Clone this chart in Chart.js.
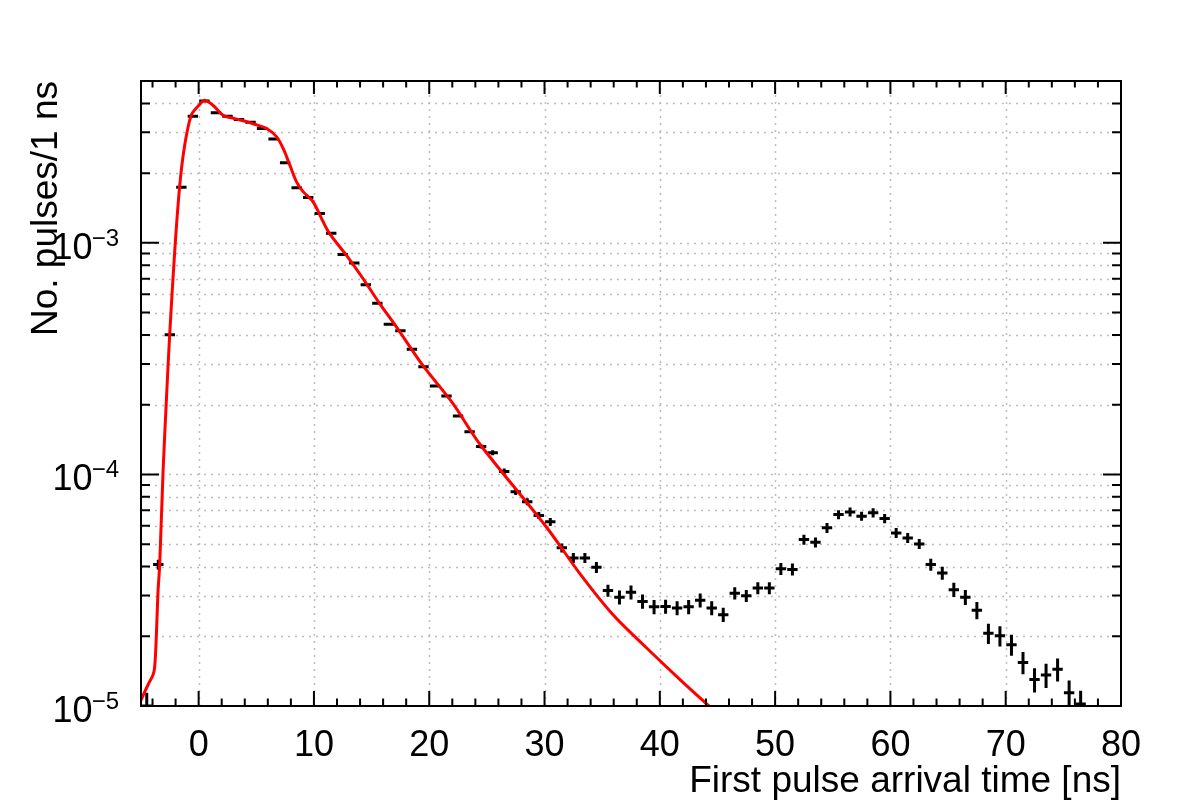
<!DOCTYPE html>
<html>
<head>
<meta charset="utf-8">
<script src="https://cdn.jsdelivr.net/npm/chart.js@4.4.1/dist/chart.umd.min.js"></script>
<style>
  html, body { margin: 0; padding: 0; background: #fff; }
  #wrap { width: 1182px; height: 805px; }
</style>
</head>
<body>
<div id="wrap"><canvas id="chart" width="1182" height="805"></canvas></div>
<script>
// Histogram: 1 ns bins, centres in ns
const binCenters = [
  -4.5, -3.5, -2.5, -1.5, -0.5, 0.5, 1.5, 2.5, 3.5, 4.5,
  5.5, 6.5, 7.5, 8.5, 9.5, 10.5, 11.5, 12.5, 13.5, 14.5,
  15.5, 16.5, 17.5, 18.5, 19.5, 20.5, 21.5, 22.5, 23.5, 24.5,
  25.5, 26.5, 27.5, 28.5, 29.5, 30.5, 31.5, 32.5, 33.5, 34.5,
  35.5, 36.5, 37.5, 38.5, 39.5, 40.5, 41.5, 42.5, 43.5, 44.5,
  45.5, 46.5, 47.5, 48.5, 49.5, 50.5, 51.5, 52.5, 53.5, 54.5,
  55.5, 56.5, 57.5, 58.5, 59.5, 60.5, 61.5, 62.5, 63.5, 64.5,
  65.5, 66.5, 67.5, 68.5, 69.5, 70.5, 71.5, 72.5, 73.5, 74.5,
  75.5, 76.5
];

// Pulses per 1 ns bin
const pulseRate = [
  1.0e-5, 4.08e-5, 4.01e-4, 1.74e-3, 3.52e-3, 4.10e-3, 3.65e-3, 3.52e-3, 3.41e-3, 3.32e-3,
  3.12e-3, 2.81e-3, 2.22e-3, 1.73e-3, 1.57e-3, 1.34e-3, 1.10e-3, 8.90e-4, 8.19e-4, 6.60e-4,
  5.48e-4, 4.45e-4, 4.17e-4, 3.47e-4, 2.92e-4, 2.41e-4, 2.18e-4, 1.79e-4, 1.53e-4, 1.32e-4,
  1.24e-4, 1.03e-4, 8.41e-5, 7.62e-5, 6.65e-5, 6.24e-5, 4.82e-5, 4.36e-5, 4.36e-5, 3.97e-5,
  3.15e-5, 2.95e-5, 3.10e-5, 2.83e-5, 2.68e-5, 2.69e-5, 2.65e-5, 2.68e-5, 2.86e-5, 2.65e-5,
  2.48e-5, 3.07e-5, 2.99e-5, 3.23e-5, 3.23e-5, 3.91e-5, 3.89e-5, 5.23e-5, 5.09e-5, 5.88e-5,
  6.71e-5, 6.89e-5, 6.60e-5, 6.83e-5, 6.45e-5, 5.59e-5, 5.32e-5, 5.01e-5, 4.08e-5, 3.75e-5,
  3.18e-5, 2.95e-5, 2.59e-5, 2.06e-5, 2.01e-5, 1.84e-5, 1.54e-5, 1.30e-5, 1.36e-5, 1.44e-5,
  1.14e-5, 1.02e-5
];

// Vertical error bar half-length, percent of the value
const relErrPct = [
  14, 5, 1, 1, 1, 1, 1, 1, 1, 1,
  1, 1, 1, 1, 1, 1, 1, 1, 1, 1,
  1, 1, 1, 1, 1, 1.5, 1.5, 1.5, 1.5, 2,
  2.5, 3, 3, 3.5, 3.5, 4, 4.5, 5, 5, 5.5,
  6, 7, 7, 7, 7, 7, 7, 7, 7, 7,
  7, 6, 6, 6, 6, 6, 6, 5, 5, 5,
  4.5, 4.5, 4.5, 4.5, 4.5, 5, 5, 5, 6, 6.5,
  7, 7.5, 8.5, 10, 10, 10.5, 11, 12, 12, 11.5,
  13, 14
];

// Fit function, sampled off the red curve
const fitTime = [
  -5.0, -4.68, -4.3, -3.96, -3.81, -3.67, -3.53, -3.38, -3.09, -2.81,
  -2.51, -2.08, -1.64, -1.21, -0.64, 0.09, 0.52, 1.24, 2.11, 3.13,
  4.17, 5.03, 5.90, 6.77, 7.34, 7.92, 8.50, 9.08, 9.94, 10.81,
  11.39, 12.84, 14.28, 15.73, 17.18, 19.48, 22.0, 24.40, 30.19, 33.08,
  35.96, 38.86, 41.75, 44.35
];
const fitRate = [
  1.06e-5, 1.15e-5, 1.26e-5, 1.36e-5, 1.48e-5, 2.0e-5, 3.08e-5, 4.07e-5, 1.02e-4, 2.04e-4,
  4.03e-4, 9.12e-4, 1.77e-3, 2.64e-3, 3.56e-3, 3.96e-3, 4.13e-3, 3.93e-3, 3.56e-3, 3.44e-3,
  3.34e-3, 3.23e-3, 3.12e-3, 2.87e-3, 2.55e-3, 2.16e-3, 1.83e-3, 1.66e-3, 1.50e-3, 1.23e-3,
  1.09e-3, 8.81e-4, 6.98e-4, 5.44e-4, 4.32e-4, 2.94e-4, 2.04e-4, 1.35e-4, 5.90e-5, 3.72e-5,
  2.47e-5, 1.78e-5, 1.30e-5, 9.9e-6
];

// Axes
const xMin = -5;
const xMax = 80;
const yMin = 1e-5;
const yMax = 5e-3;
const xMajorTicks = [0, 10, 20, 30, 40, 50, 60, 70, 80];
const xTickLabels = ['0', '10', '20', '30', '40', '50', '60', '70', '80'];
const yDecades = [1e-5, 1e-4, 1e-3];
const yDecadeExps = ['\u22125', '\u22124', '\u22123'];
const xTitle = 'First pulse arrival time [ns]';
const yTitle = 'No. pulses/1 ns';

const FONT = '"Liberation Sans", Arial, Helvetica, sans-serif';
const BIN_HALF = 0.45;

// minor ticks
function xMinorTicks() {
  const out = [];
  for (let v = -4; v < xMax; v += 2) if (v % 10 !== 0) out.push(v);
  return out;
}
function yMinorTicks() {
  const out = [];
  for (let e = -5; e <= -3; e++) {
    for (let m = 2; m <= 9; m++) {
      const v = m * Math.pow(10, e);
      if (v < yMax) out.push(v);
    }
  }
  return out;
}

// ROOT-like frame, grid, ticks, labels and error bars
const rootStyle = {
  id: 'rootStyle',
  beforeDatasetsDraw(chart) {
    const { ctx, chartArea: a, scales: { x, y } } = chart;
    ctx.save();
    // dotted grid
    ctx.strokeStyle = '#bdbdbd';
    ctx.lineWidth = 1.5;
    ctx.setLineDash([2, 5]);
    xMajorTicks.forEach((v) => {
      const px = Math.round(x.getPixelForValue(v)) + 0.5;
      if (px <= a.left + 1 || px >= a.right - 1) return;
      ctx.beginPath();
      ctx.moveTo(px, a.top);
      ctx.lineTo(px, a.bottom);
      ctx.stroke();
    });
    yDecades.concat(yMinorTicks()).forEach((v) => {
      const py = Math.round(y.getPixelForValue(v)) + 0.5;
      if (py <= a.top + 1 || py >= a.bottom - 1) return;
      ctx.beginPath();
      ctx.moveTo(a.left, py);
      ctx.lineTo(a.right, py);
      ctx.stroke();
    });
    ctx.setLineDash([]);

    // error bars of the histogram
    ctx.beginPath();
    ctx.rect(a.left, a.top, a.right - a.left, a.bottom - a.top);
    ctx.clip();
    ctx.strokeStyle = '#000';
    ctx.lineWidth = 3;
    const meta = chart.getDatasetMeta(0);
    meta.data.forEach((pt, i) => {
      const xc = binCenters[i];
      const val = pulseRate[i];
      const err = val * relErrPct[i] / 100;
      const x0 = x.getPixelForValue(xc - BIN_HALF);
      const x1 = x.getPixelForValue(xc + BIN_HALF);
      const y0 = y.getPixelForValue(val - err);
      const y1 = y.getPixelForValue(val + err);
      ctx.beginPath();
      ctx.moveTo(x0, pt.y);
      ctx.lineTo(x1, pt.y);
      ctx.moveTo(pt.x, y0);
      ctx.lineTo(pt.x, y1);
      ctx.stroke();
    });
    ctx.restore();
  },
  afterDatasetsDraw(chart) {
    const { ctx, chartArea: a, scales: { x, y } } = chart;
    ctx.save();
    ctx.strokeStyle = '#000';
    ctx.fillStyle = '#000';

    // ticks (inside the frame, on all four sides)
    ctx.lineWidth = 2;
    ctx.beginPath();
    xMajorTicks.forEach((v) => {
      const px = x.getPixelForValue(v);
      ctx.moveTo(px, a.bottom); ctx.lineTo(px, a.bottom - 15);
      ctx.moveTo(px, a.top); ctx.lineTo(px, a.top + 13);
    });
    xMinorTicks().forEach((v) => {
      const px = x.getPixelForValue(v);
      ctx.moveTo(px, a.bottom); ctx.lineTo(px, a.bottom - 7.5);
      ctx.moveTo(px, a.top); ctx.lineTo(px, a.top + 6.5);
    });
    yDecades.forEach((v) => {
      const py = y.getPixelForValue(v);
      ctx.moveTo(a.left, py); ctx.lineTo(a.left + 18, py);
      ctx.moveTo(a.right, py); ctx.lineTo(a.right - 18, py);
    });
    yMinorTicks().forEach((v) => {
      const py = y.getPixelForValue(v);
      ctx.moveTo(a.left, py); ctx.lineTo(a.left + 9, py);
      ctx.moveTo(a.right, py); ctx.lineTo(a.right - 9, py);
    });
    ctx.stroke();

    // frame
    ctx.lineWidth = 2;
    ctx.strokeRect(a.left, a.top, a.right - a.left, a.bottom - a.top);

    // x tick labels
    ctx.font = '36px ' + FONT;
    ctx.textAlign = 'center';
    ctx.textBaseline = 'alphabetic';
    xMajorTicks.forEach((v, i) => {
      ctx.fillText(xTickLabels[i], x.getPixelForValue(v), a.bottom + 50);
    });

    // y tick labels 10^n
    yDecades.forEach((v, i) => {
      const py = y.getPixelForValue(v);
      ctx.font = '24px ' + FONT;
      const wExp = ctx.measureText(yDecadeExps[i]).width;
      const xExp = 119 - wExp;
      ctx.textAlign = 'left';
      ctx.fillText(yDecadeExps[i], xExp, py + 3);
      ctx.font = '36px ' + FONT;
      ctx.textAlign = 'right';
      ctx.fillText('10', xExp + 1, py + 16);
    });

    // axis titles
    ctx.font = '37px ' + FONT;
    ctx.textAlign = 'right';
    ctx.fillText(xTitle, a.right, 792);
    ctx.save();
    ctx.translate(57, a.top);
    ctx.rotate(-Math.PI / 2);
    ctx.textAlign = 'right';
    ctx.fillText(yTitle, 0, 0);
    ctx.restore();

    ctx.restore();
  }
};

const chart = new Chart(document.getElementById('chart'), {
  type: 'scatter',
  data: {
    datasets: [
      {
        label: 'data',
        data: binCenters.map((t, i) => ({ x: t, y: pulseRate[i] })),
        pointRadius: 0,
        pointHoverRadius: 0,
        showLine: false
      },
      {
        label: 'fit',
        type: 'line',
        data: fitTime.map((t, i) => ({ x: t, y: fitRate[i] })),
        borderColor: '#ff0000',
        borderWidth: 3,
        pointRadius: 0,
        fill: false,
        tension: 0.3
      }
    ]
  },
  options: {
    responsive: false,
    devicePixelRatio: 1,
    animation: false,
    events: [],
    layout: { padding: { left: 141, right: 61, top: 81, bottom: 99 } },
    plugins: {
      legend: { display: false },
      tooltip: { enabled: false },
      title: { display: false }
    },
    scales: {
      x: { type: 'linear', min: xMin, max: xMax, display: false },
      y: { type: 'logarithmic', min: yMin, max: yMax, display: false }
    }
  },
  plugins: [rootStyle]
});
</script>
</body>
</html>
